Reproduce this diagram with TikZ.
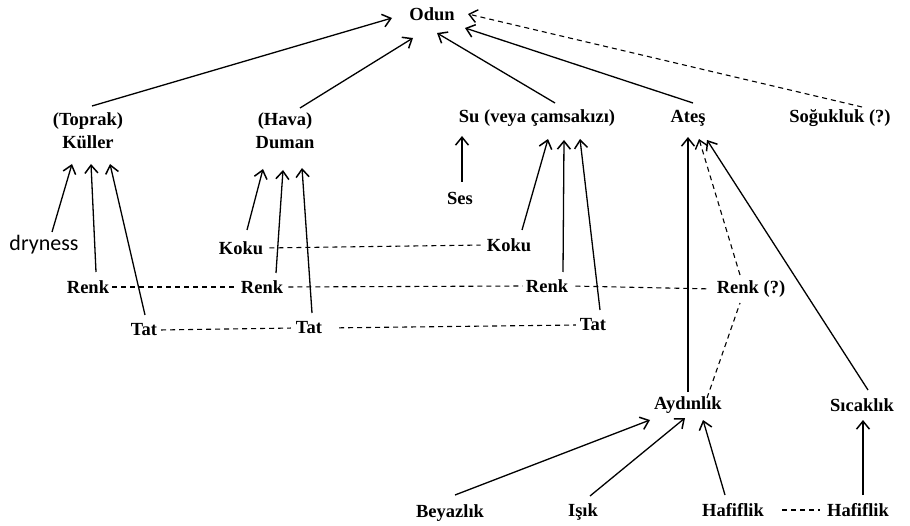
\documentclass[tikz,border=0pt]{standalone}
\usepackage{fontspec}
\setmainfont{Liberation Serif}
\newfontfamily\drysans{Carlito}
\usetikzlibrary{arrows.meta}
\tikzset{
  lbl/.style={font=\fontsize{18.5}{23}\selectfont\bfseries, inner sep=2pt, align=center},
  ar/.style={line width=1.3pt, -{Straight Barb[length=8pt,width=13pt,line width=1.5pt]}},
  dar/.style={line width=1.1pt, dash pattern=on 5pt off 4pt, -{Straight Barb[length=8pt,width=13pt,line width=1.4pt]}},
  dl/.style={line width=1.1pt, dash pattern=on 5pt off 4pt}
}
\begin{document}
\begin{tikzpicture}[x=1pt,y=-1pt]
\useasboundingbox (0,0) rectangle (910,526);
% nodes
\node[lbl] (odun) at (432,14) {Odun};
\node[lbl] (kuller) at (88,131) {(Toprak)\\Küller};
\node[lbl] (duman) at (285,131) {(Hava)\\Duman};
\node[lbl] (su) at (537,118) {Su (veya çamsakızı)};
\node[lbl] (ates) at (688,118) {Ateş};
\node[lbl] (soguk) at (840,118) {Soğukluk (?)};
\node[lbl] (ses) at (460,198) {Ses};
\node[font=\drysans\fontsize{22}{24}\selectfont, inner sep=2pt] (dry) at (44,245) {dryness};
\node[lbl] (koku1) at (241,248) {Koku};
\node[lbl] (koku2) at (509,245) {Koku};
\node[lbl] (renk1) at (88,287) {Renk};
\node[lbl] (renk2) at (262,287) {Renk};
\node[lbl] (renk3) at (547,286) {Renk};
\node[lbl] (renkq) at (751,289) {Renk (?)};
\node[lbl] (tat1) at (144,330) {Tat};
\node[lbl] (tat2) at (309,328) {Tat};
\node[lbl] (tat3) at (593,325) {Tat};
\node[lbl] (aydin) at (688,405) {Aydınlık};
\node[lbl] (sicak) at (862,405) {Sıcaklık};
\node[lbl] (beyaz) at (450,513) {Beyazlık};
\node[lbl] (isik) at (583,512) {Işık};
\node[lbl] (haf1) at (733,510) {Hafiflik};
\node[lbl] (haf2) at (858,510) {Hafiflik};
% to Odun
\draw[ar] ([shift={(4,-25)}]kuller.center) -- ([shift={(-40,4)}]odun.center);
\draw[ar] ([shift={(15,-23)}]duman.center) -- ([shift={(-19,24)}]odun.center);
\draw[ar] ([shift={(18,-15)}]su.center) -- ([shift={(5,19)}]odun.center);
\draw[ar] ([shift={(5,-15)}]ates.center) -- ([shift={(33,14)}]odun.center);
\draw[dar] ([shift={(22,-11)}]soguk.center) -- ([shift={(36,0)}]odun.center);
% to Kuller
\draw[ar] ([shift={(8,-13)}]dry.center) -- ([shift={(-16,33)}]kuller.center);
\draw[ar] ([shift={(8,-15)}]renk1.center) -- ([shift={(3,33)}]kuller.center);
\draw[ar] ([shift={(1,-15)}]tat1.center) -- ([shift={(22,33)}]kuller.center);
% to Duman
\draw[ar] ([shift={(6,-18)}]koku1.center) -- ([shift={(-22,38)}]duman.center);
\draw[ar] ([shift={(14,-14)}]renk2.center) -- ([shift={(-2,39)}]duman.center);
\draw[ar] ([shift={(3,-15)}]tat2.center) -- ([shift={(17,37)}]duman.center);
% to Su
\draw[ar] ([shift={(2,-16)}]ses.center) -- ([shift={(-75,18)}]su.center);
\draw[ar] ([shift={(13,-15)}]koku2.center) -- ([shift={(11,21)}]su.center);
\draw[ar] ([shift={(16,-14)}]renk3.center) -- ([shift={(27,22)}]su.center);
\draw[ar] ([shift={(7,-15)}]tat3.center) -- ([shift={(43,21)}]su.center);
% to Ates
\draw[ar] ([shift={(0,-13)}]aydin.center) -- ([shift={(0,19)}]ates.center);
\draw[dar] ([shift={(-11,-14)}]renkq.center) -- ([shift={(11,21)}]ates.center);
\draw[ar] ([shift={(6,-15)}]sicak.center) -- ([shift={(19,22)}]ates.center);
\draw[dl] ([shift={(19,-7)}]aydin.center) -- ([shift={(-11,14)}]renkq.center);
% to Aydinlik / Sicaklik
\draw[ar] ([shift={(5,-18)}]beyaz.center) -- ([shift={(-38,15)}]aydin.center);
\draw[ar] ([shift={(7,-16)}]isik.center) -- ([shift={(-3,13)}]aydin.center);
\draw[ar] ([shift={(-8,-15)}]haf1.center) -- ([shift={(15,15)}]aydin.center);
\draw[ar] ([shift={(5,-15)}]haf2.center) -- ([shift={(1,15)}]sicak.center);
% horizontal dashed links
\draw[dl, shorten <=4pt, shorten >=4pt] (koku1.east) -- (koku2.west);
\draw[dl, shorten <=1pt, shorten >=1pt] (renk1.east) -- (renk2.west);
\draw[dl, shorten <=3pt, shorten >=1pt] (renk2.east) -- (renk3.west);
\draw[dl, shorten <=5pt, shorten >=8pt] (renk3.east) -- (renkq.west);
\draw[dl, shorten <=2pt, shorten >=3pt] (tat1.east) -- (tat2.west);
\draw[dl, shorten <=15pt, shorten >=2pt] (tat2.east) -- (tat3.west);
\draw[dl, shorten <=16pt, shorten >=5pt] (haf1.east) -- (haf2.west);
\end{tikzpicture}
\end{document}
